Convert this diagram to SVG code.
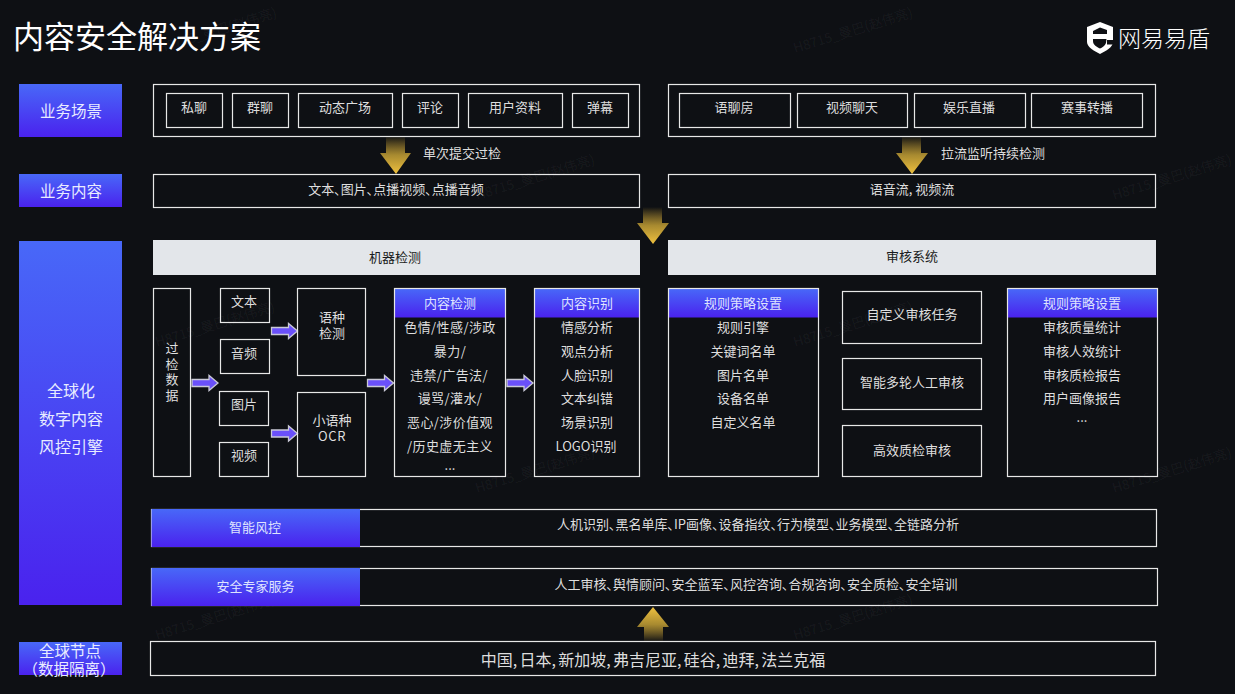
<svg xmlns="http://www.w3.org/2000/svg" xmlns:xlink="http://www.w3.org/1999/xlink" width="1235" height="694" viewBox="0 0 1235 694">
<style>
text{font-family:"Noto Sans CJK SC","Noto Sans",sans-serif;fill:#dedede;font-size:13px;text-anchor:middle;dominant-baseline:central}
text:not(.wm){transform:translateY(-1.5px)}
.b{fill:none;stroke:#e8e8e8;stroke-width:1.2}
.lab{fill:#e8ecff;font-size:15.5px}
.g{fill:#e3e6ea}
.dk{fill:#1a1c20}
.p{font-feature-settings:"palt"}
.sp{letter-spacing:.4px}
.wm{fill:#fff;fill-opacity:.055;font-size:13.500px;text-anchor:start;dominant-baseline:auto}
.hd{fill:#dfe3ff}
</style>
<defs>
<linearGradient id="blue" x1="0" y1="0" x2="0" y2="1"><stop offset="0" stop-color="#4868f8"/><stop offset="1" stop-color="#4a22ee"/></linearGradient>
<linearGradient id="gold" x1="0" y1="0" x2="0" y2="1"><stop offset="0" stop-color="#c9a034" stop-opacity="0"/><stop offset=".5" stop-color="#a88a30"/><stop offset="1" stop-color="#efc13f"/></linearGradient>
<linearGradient id="goldU" x1="0" y1="1" x2="0" y2="0"><stop offset="0" stop-color="#c9a034" stop-opacity="0"/><stop offset=".5" stop-color="#a88a30"/><stop offset="1" stop-color="#efc13f"/></linearGradient>
<path id="pa" d="M0 4H17V0L26 7.500L17 15V11H0Z" fill="#6a50fa" stroke="#c9c9d6" stroke-width="1.300"/>
</defs>
<rect width="1235" height="694" fill="#0e1014"/>
<g id="watermarks">
<text class="wm" transform="translate(159 53) rotate(-17)">H8715_曼巴(赵伟亮)</text>
<text class="wm" transform="translate(795 53) rotate(-17)">H8715_曼巴(赵伟亮)</text>
<text class="wm" transform="translate(477 200) rotate(-17)">H8715_曼巴(赵伟亮)</text>
<text class="wm" transform="translate(1114 200) rotate(-17)">H8715_曼巴(赵伟亮)</text>
<text class="wm" transform="translate(157 347) rotate(-17)">H8715_曼巴(赵伟亮)</text>
<text class="wm" transform="translate(795 347) rotate(-17)">H8715_曼巴(赵伟亮)</text>
<text class="wm" transform="translate(477 493) rotate(-17)">H8715_曼巴(赵伟亮)</text>
<text class="wm" transform="translate(1114 493) rotate(-17)">H8715_曼巴(赵伟亮)</text>
<text class="wm" transform="translate(157 640) rotate(-17)">H8715_曼巴(赵伟亮)</text>
<text class="wm" transform="translate(795 640) rotate(-17)">H8715_曼巴(赵伟亮)</text>
</g>
<g id="title"><text x="137" y="35.500" style="font-size:31px;fill:#fff">内容安全解决方案</text></g>
<g id="logo">
<path d="M1100 22L1113 27V42C1113 47 1106 51 1100 54C1094 51 1087 47 1087 42V27Z" fill="#fff"/>
<path d="M1100 27.500L1107 30V34H1093V31Z M1093 39H1106.500L1106 43C1105 46 1102 47.500 1100 48.500C1097 47 1093 45 1093 41Z" fill="#0e1014"/>
<path d="M1107 40H1114V44.500H1107Z" fill="#0e1014"/>
<text x="1164" y="38" style="font-size:23px;font-weight:300;fill:#fff">网易易盾</text>
</g>
<g id="connectors">
<path d="M386 136H405V153H411L396 174L380 153H386Z" fill="url(#gold)"/>
<path d="M902 136H921V153H928L912 174L896 153H902Z" fill="url(#gold)"/>
<path d="M643 207H662V223H669L653 244L637 223H643Z" fill="url(#gold)"/>
<path d="M644 642H663V627H669L653 607L637 627H644Z" fill="url(#goldU)"/>
<use xlink:href="#pa" href="#pa" x="271.500" y="323.500"/>
<use xlink:href="#pa" href="#pa" x="271.500" y="426"/>
<use xlink:href="#pa" href="#pa" x="192" y="375.500"/>
<use xlink:href="#pa" href="#pa" x="367.500" y="375.500"/>
<use xlink:href="#pa" href="#pa" x="507" y="375.500"/>
</g>
<g id="label-1"><text x="423" y="154" style="text-anchor:start">单次提交过检</text></g>
<g id="label-2"><text x="941" y="154" style="text-anchor:start">拉流监听持续检测</text></g>
<g id="lane-scene"><rect x="19" y="84" width="103" height="53" fill="url(#blue)"/><text class="lab" x="71" y="111">业务场景</text></g>
<g id="lane-content"><rect x="19" y="174" width="103" height="33" fill="url(#blue)"/><text class="lab" x="71" y="191">业务内容</text></g>
<g id="lane-engine"><rect x="19" y="241" width="103" height="364" fill="url(#blue)"/><text class="lab" x="71" y="391" style="font-size:16px">全球化</text><text class="lab" x="71" y="419" style="font-size:16px">数字内容</text><text class="lab" x="71" y="447" style="font-size:16px">风控引擎</text></g>
<g id="lane-nodes"><rect x="19" y="642" width="103" height="33" fill="url(#blue)"/><text class="lab" x="70" y="651">全球节点</text><text class="lab" x="69" y="669">（数据隔离）</text></g>
<g id="scene-left">
<rect class="b" x="153.500" y="84.500" width="486" height="52"/>
<g id="s1"><rect class="b" x="166.500" y="93.500" width="56" height="34"/><text x="194" y="108">私聊</text></g>
<g id="s2"><rect class="b" x="232.500" y="93.500" width="56" height="34"/><text x="260" y="108">群聊</text></g>
<g id="s3"><rect class="b" x="298.500" y="93.500" width="94" height="34"/><text x="345" y="108">动态广场</text></g>
<g id="s4"><rect class="b" x="402.500" y="93.500" width="56" height="34"/><text x="430" y="108">评论</text></g>
<g id="s5"><rect class="b" x="468.500" y="93.500" width="94" height="34"/><text x="515" y="108">用户资料</text></g>
<g id="s6"><rect class="b" x="572.500" y="93.500" width="56" height="34"/><text x="600" y="108">弹幕</text></g>
</g>
<g id="scene-right">
<rect class="b" x="668.500" y="84.500" width="487" height="52"/>
<g id="s7"><rect class="b" x="679.500" y="93.500" width="111" height="34"/><text x="734" y="108">语聊房</text></g>
<g id="s8"><rect class="b" x="797.500" y="93.500" width="110" height="34"/><text x="852" y="108">视频聊天</text></g>
<g id="s9"><rect class="b" x="914.500" y="93.500" width="111" height="34"/><text x="969" y="108">娱乐直播</text></g>
<g id="s10"><rect class="b" x="1031.500" y="93.500" width="111" height="34"/><text x="1087" y="108">赛事转播</text></g>
</g>
<g id="content-left"><rect class="b" x="153.500" y="174.500" width="486" height="33"/><text class="p" x="396" y="190">文本、图片、点播视频、点播音频</text></g>
<g id="content-right"><rect class="b" x="668.500" y="174.500" width="487" height="33"/><text x="912" y="190">语音流, 视频流</text></g>
<g id="bar-machine"><rect class="g" x="153" y="240" width="487" height="35"/><text class="dk" x="395" y="258">机器检测</text></g>
<g id="bar-review"><rect class="g" x="668" y="240" width="488" height="35"/><text class="dk" x="912" y="257">审核系统</text></g>
<g id="data"><rect class="b" x="153.500" y="288.500" width="37" height="188"/><text x="172" y="349">过</text><text x="172" y="365">检</text><text x="172" y="380">数</text><text x="172" y="396">据</text></g>
<g id="t1"><rect class="b" x="220.500" y="288.500" width="49" height="34"/><text x="244" y="302">文本</text></g>
<g id="t2"><rect class="b" x="220.500" y="339.500" width="49" height="34"/><text x="244" y="354">音频</text></g>
<g id="t3"><rect class="b" x="219.500" y="391.500" width="49" height="34"/><text x="244" y="405">图片</text></g>
<g id="t4"><rect class="b" x="219.500" y="442.500" width="49" height="34"/><text x="244" y="456">视频</text></g>
<g id="lang"><rect class="b" x="297.500" y="288.500" width="68" height="87"/><text x="332" y="318">语种</text><text x="332" y="334">检测</text></g>
<g id="ocr"><rect class="b" x="297.500" y="392.500" width="68" height="84"/><text x="332" y="421">小语种</text><text x="332" y="437" style="letter-spacing:.6px">OCR</text></g>
<g id="detect"><rect x="394.500" y="288.500" width="111" height="29" fill="url(#blue)"/><rect class="b" x="394.500" y="288.500" width="111" height="188"/><text class="hd" x="450" y="304">内容检测</text>
<text class="sp" x="450" y="328">色情/性感/涉政</text><text class="sp" x="450" y="352">暴力/</text><text class="sp" x="449" y="376">违禁/广告法/</text><text class="sp" x="450" y="399">谩骂/灌水/</text><text class="sp" x="450" y="423">恶心/涉价值观</text><text class="sp" x="450" y="447">/历史虚无主义</text><text x="450" y="466">...</text></g>
<g id="recog"><rect x="534.500" y="288.500" width="105" height="29" fill="url(#blue)"/><rect class="b" x="534.500" y="288.500" width="105" height="188"/><text class="hd" x="587" y="304">内容识别</text>
<text x="587" y="328">情感分析</text><text x="587" y="352">观点分析</text><text x="587" y="376">人脸识别</text><text x="587" y="399">文本纠错</text><text x="587" y="423">场景识别</text><text x="586" y="447">LOGO识别</text></g>
<g id="rule"><rect x="668.500" y="288.500" width="150" height="29" fill="url(#blue)"/><rect class="b" x="668.500" y="288.500" width="150" height="188"/><text class="hd" x="743" y="304">规则策略设置</text>
<text x="743" y="328">规则引擎</text><text x="743" y="352">关键词名单</text><text x="743" y="376">图片名单</text><text x="743" y="399">设备名单</text><text x="743" y="423">自定义名单</text></g>
<g id="r1"><rect class="b" x="842.500" y="291.500" width="139" height="52"/><text x="912" y="315">自定义审核任务</text></g>
<g id="r2"><rect class="b" x="842.500" y="358.500" width="139" height="51"/><text x="912" y="383">智能多轮人工审核</text></g>
<g id="r3"><rect class="b" x="842.500" y="425.500" width="139" height="51"/><text x="912" y="451">高效质检审核</text></g>
<g id="report"><rect x="1007.500" y="288.500" width="150" height="29" fill="url(#blue)"/><rect class="b" x="1007.500" y="288.500" width="150" height="188"/><text class="hd" x="1082" y="304">规则策略设置</text>
<text x="1082" y="328">审核质量统计</text><text x="1082" y="352">审核人效统计</text><text x="1082" y="376">审核质检报告</text><text x="1082" y="399">用户画像报告</text><text x="1082" y="418">...</text></g>
<g id="risk"><rect class="b" x="151.500" y="509.500" width="1005" height="37"/><rect x="151.500" y="509" width="208.500" height="38" fill="url(#blue)"/><text class="hd" x="255" y="528">智能风控</text><text class="p" x="758" y="525">人机识别、黑名单库、IP画像、设备指纹、行为模型、业务模型、全链路分析</text></g>
<g id="expert"><rect class="b" x="151.500" y="568.500" width="1006" height="37"/><rect x="151.500" y="568" width="208.500" height="38" fill="url(#blue)"/><text class="hd" x="255.500" y="587">安全专家服务</text><text class="p" x="756" y="585">人工审核、舆情顾问、安全蓝军、风控咨询、合规咨询、安全质检、安全培训</text></g>
<g id="global"><rect class="b" x="150.500" y="641.500" width="1005" height="34"/><text x="653" y="660" style="font-size:16px;word-spacing:-1.300px">中国, 日本, 新加坡, 弗吉尼亚, 硅谷, 迪拜, 法兰克福</text></g>
</svg>
